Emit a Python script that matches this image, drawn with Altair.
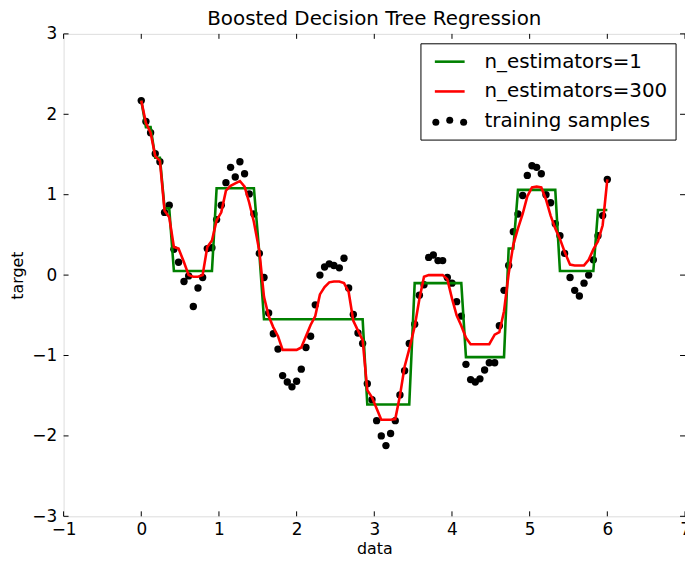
import altair as alt
import pandas as pd

# ---- data ----
x_vals = [0.00, 0.06, 0.12, 0.18, 0.24, 0.30, 0.36, 0.42, 0.48, 0.55,
          0.61, 0.67, 0.73, 0.79, 0.85, 0.91, 0.97, 1.03, 1.09, 1.15,
          1.21, 1.27, 1.33, 1.39, 1.45, 1.52, 1.58, 1.64, 1.70, 1.76,
          1.82, 1.88, 1.94, 2.00, 2.06, 2.12, 2.18, 2.24, 2.30, 2.36,
          2.42, 2.48, 2.55, 2.61, 2.67, 2.73, 2.79, 2.85, 2.91, 2.97,
          3.03, 3.09, 3.15, 3.21, 3.27, 3.33, 3.39, 3.45, 3.52, 3.58,
          3.64, 3.70, 3.76, 3.82, 3.88, 3.94, 4.00, 4.06, 4.12, 4.18,
          4.24, 4.30, 4.36, 4.42, 4.48, 4.55, 4.61, 4.67, 4.73, 4.79,
          4.85, 4.91, 4.97, 5.03, 5.09, 5.15, 5.21, 5.27, 5.33, 5.39,
          5.45, 5.52, 5.58, 5.64, 5.70, 5.76, 5.82, 5.88, 5.94, 6.00]

y_samples = [2.17, 1.91, 1.77, 1.51, 1.41, 0.78, 0.87, 0.32, 0.16, -0.08,
             -0.01, -0.39, -0.16, -0.03, 0.33, 0.34, 0.69, 0.87, 1.15, 1.34,
             1.22, 1.41, 1.26, 1.01, 0.76, 0.27, -0.03, -0.47, -0.73, -0.92,
             -1.25, -1.33, -1.39, -1.32, -1.17, -0.90, -0.76, -0.37, 0.00, 0.10,
             0.14, 0.12, 0.09, 0.21, -0.16, -0.49, -0.72, -0.85, -1.35, -1.55,
             -1.81, -2.00, -2.12, -1.97, -1.81, -1.49, -1.19, -0.85, -0.61, -0.25,
             -0.12, 0.22, 0.25, 0.18, 0.18, -0.03, -0.10, -0.33, -0.51, -1.11,
             -1.30, -1.33, -1.29, -1.18, -1.09, -1.09, -0.63, -0.19, 0.12, 0.54,
             0.76, 0.99, 1.24, 1.36, 1.34, 1.26, 1.00, 0.90, 0.64, 0.49,
             0.27, -0.03, -0.19, -0.26, -0.10, 0.00, 0.19, 0.49, 0.74, 1.19]

y_est1 = [2.17, 1.84, 1.84, 1.46, 1.46, 0.83, 0.83, 0.05, 0.05, 0.05,
          0.05, 0.05, 0.05, 0.05, 0.05, 0.05, 1.08, 1.08, 1.08, 1.08,
          1.08, 1.08, 1.08, 1.08, 1.08, 0.27, -0.55, -0.55, -0.55, -0.55,
          -0.55, -0.55, -0.55, -0.55, -0.55, -0.55, -0.55, -0.55, -0.55, -0.55,
          -0.55, -0.55, -0.55, -0.55, -0.55, -0.55, -0.55, -0.55, -1.61, -1.61,
          -1.61, -1.61, -1.61, -1.61, -1.61, -1.61, -1.61, -1.61, -0.10, -0.10,
          -0.10, -0.10, -0.10, -0.10, -0.10, -0.10, -0.10, -0.10, -0.10, -1.02,
          -1.02, -1.02, -1.02, -1.02, -1.02, -1.02, -1.02, -1.02, 0.33, 0.33,
          1.06, 1.06, 1.06, 1.06, 1.06, 1.06, 1.06, 1.06, 1.06, 0.05,
          0.05, 0.05, 0.05, 0.05, 0.05, 0.05, 0.05, 0.81, 0.81, 0.81]

y_est300 = [2.17, 1.89, 1.77, 1.48, 1.42, 0.80, 0.72, 0.35, 0.33, 0.16,
            0.00, -0.02, -0.02, 0.00, 0.35, 0.43, 0.68, 0.78, 1.05, 1.11,
            1.14, 1.17, 1.10, 0.90, 0.66, 0.30, -0.27, -0.51, -0.65, -0.76,
            -0.93, -0.93, -0.93, -0.93, -0.90, -0.76, -0.62, -0.51, -0.24, -0.15,
            -0.09, -0.08, -0.08, -0.10, -0.21, -0.57, -0.69, -0.81, -1.43, -1.52,
            -1.66, -1.80, -1.80, -1.80, -1.79, -1.50, -1.14, -0.92, -0.64, -0.30,
            -0.02, 0.00, 0.00, 0.00, 0.00, -0.05, -0.29, -0.50, -0.63, -0.78,
            -0.86, -0.86, -0.86, -0.86, -0.86, -0.74, -0.71, -0.45, 0.02, 0.38,
            0.58, 0.76, 0.98, 1.09, 1.10, 1.09, 0.94, 0.74, 0.58, 0.45,
            0.29, 0.13, 0.12, 0.12, 0.12, 0.19, 0.32, 0.42, 0.62, 1.19]

x_ticks = [-1, 0, 1, 2, 3, 4, 5, 6, 7]
y_ticks = [-3, -2, -1, 0, 1, 2, 3]
legend_labels = ["n_estimators=1", "n_estimators=300", "training samples"]

GREEN = "#008000"
RED = "#ff0000"
FONT = "DejaVu Sans"
W, H = 626, 486

df_s = pd.DataFrame({"x": x_vals, "y": y_samples})
df_1 = pd.DataFrame({"x": x_vals, "y": y_est1})
df_300 = pd.DataFrame({"x": x_vals, "y": y_est300})
df_xt = pd.DataFrame({"x": x_ticks})
df_yt = pd.DataFrame({"y": y_ticks})
one = pd.DataFrame({"k": [0]})

xscale = alt.Scale(domain=[-1, 7], nice=False, zero=False)
yscale = alt.Scale(domain=[-3, 3], nice=False, zero=False)

xaxis = alt.Axis(values=x_ticks, format="d", tickSize=0, domain=False, grid=False,
                 labelFontSize=17, labelFont=FONT, labelColor="black",
                 labelPadding=5, labelFlush=False, labelOverlap=False,
                 title="data", titleFont=FONT, titleFontSize=16,
                 titleFontWeight="normal", titleColor="black", titlePadding=3)
yaxis = alt.Axis(values=y_ticks, format="d", tickSize=0, domain=False, grid=False,
                 labelFontSize=17, labelFont=FONT, labelColor="black",
                 labelPadding=7, labelFlush=False, labelOverlap=False,
                 title="target", titleFont=FONT, titleFontSize=16,
                 titleFontWeight="normal", titleColor="black", titlePadding=6)

pts = alt.Chart(df_s).mark_circle(size=55, color="black", opacity=1).encode(
    x=alt.X("x:Q", scale=xscale, axis=xaxis),
    y=alt.Y("y:Q", scale=yscale, axis=yaxis),
)
line1 = alt.Chart(df_1).mark_line(color=GREEN, strokeWidth=2.6).encode(
    x=alt.X("x:Q", scale=xscale), y=alt.Y("y:Q", scale=yscale))
line300 = alt.Chart(df_300).mark_line(color=RED, strokeWidth=2.6).encode(
    x=alt.X("x:Q", scale=xscale), y=alt.Y("y:Q", scale=yscale))

tk = dict(color="black", strokeWidth=1)
tb = alt.Chart(df_xt).mark_rule(**tk).encode(
    x=alt.X("x:Q", scale=xscale), y=alt.value(H), y2=alt.value(H - 5))
tt = alt.Chart(df_xt).mark_rule(**tk).encode(
    x=alt.X("x:Q", scale=xscale), y=alt.value(0), y2=alt.value(5))
tl = alt.Chart(df_yt).mark_rule(**tk).encode(
    y=alt.Y("y:Q", scale=yscale), x=alt.value(0), x2=alt.value(5))
tr = alt.Chart(df_yt).mark_rule(**tk).encode(
    y=alt.Y("y:Q", scale=yscale), x=alt.value(W), x2=alt.value(W - 5))

# legend
box = alt.Chart(one).mark_rect(fill="white", stroke="black", strokeWidth=1).encode(
    x=alt.value(360), x2=alt.value(617), y=alt.value(10), y2=alt.value(107))
lg1 = alt.Chart(one).mark_rule(color=GREEN, strokeWidth=2.6).encode(
    x=alt.value(374), x2=alt.value(404), y=alt.value(28))
lg2 = alt.Chart(one).mark_rule(color=RED, strokeWidth=2.6).encode(
    x=alt.value(374), x2=alt.value(404), y=alt.value(58))
lgd = [alt.Chart(one).mark_circle(size=50, color="black", opacity=1).encode(
    x=alt.value(px), y=alt.value(py)) for px, py in [(375, 89), (389, 87), (403, 89)]]
txts = [alt.Chart(one).mark_text(align="left", baseline="middle", fontSize=20,
                                 font=FONT, color="black").encode(
    x=alt.value(424), y=alt.value(yy), text=alt.value(lab))
    for lab, yy in zip(legend_labels, [28, 58, 88])]

chart = alt.layer(pts, line1, line300, tb, tt, tl, tr, box, lg1, lg2, *lgd, *txts).properties(
    width=W, height=H,
    title=alt.TitleParams("Boosted Decision Tree Regression", font=FONT, fontSize=20,
                          fontWeight="normal", color="black", anchor="middle", offset=-4),
    autosize=alt.AutoSizeParams(type="none"),
    padding={"left": 56, "top": 24, "right": 0, "bottom": 50},
).configure_view(stroke="black", strokeWidth=1.2).configure(background="white")

chart.save("out.html", embed_options={"renderer": "svg", "actions": False})
